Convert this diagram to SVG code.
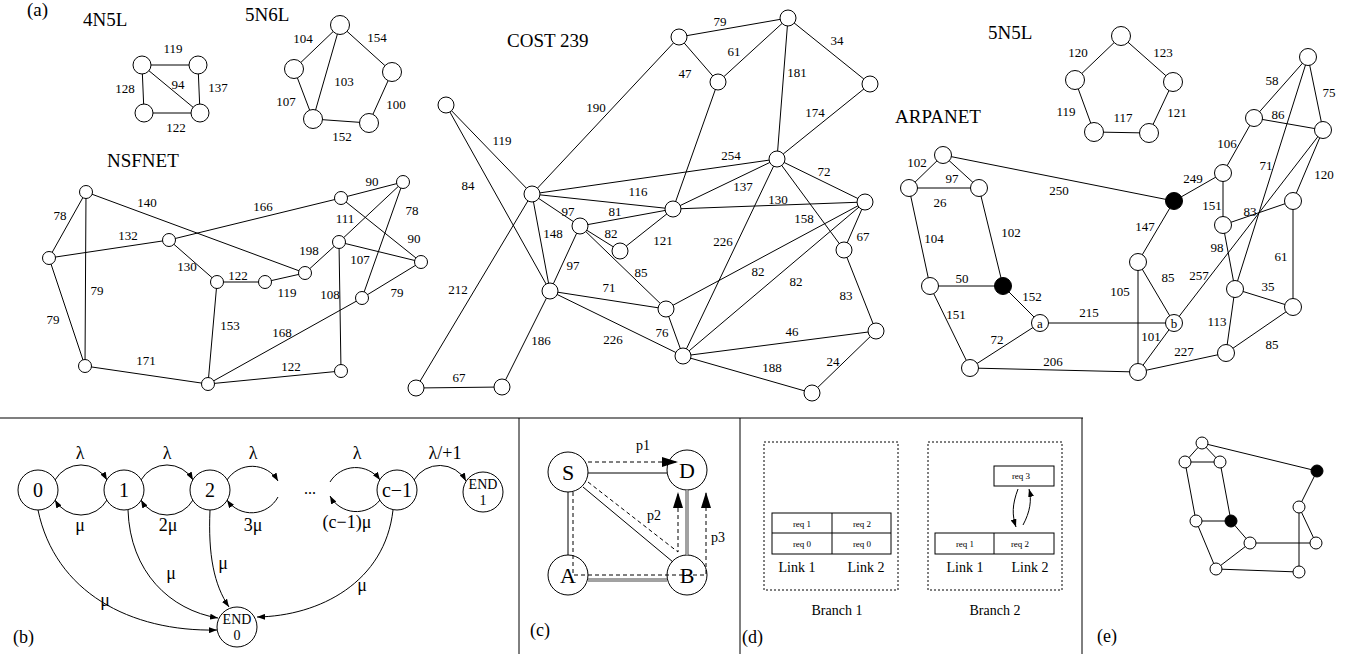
<svg xmlns="http://www.w3.org/2000/svg" width="1364" height="654" viewBox="0 0 1364 654">
<style>
text{font-family:"Liberation Serif","Times New Roman",serif;fill:#000}
.t{font-size:19px}
.l{font-size:13px;text-anchor:middle}
.e line,.e path,.e polyline{stroke:#000;stroke-width:1;fill:none}
circle{fill:#fff;stroke:#000;stroke-width:1}
circle.k{fill:#000}
.big{font-size:22px;text-anchor:middle}
.st{font-size:20px;text-anchor:middle}
.sm{font-size:9px;text-anchor:middle}
.md{font-size:14px;text-anchor:middle}
.gk{font-size:18px;text-anchor:middle}
.dash{stroke-dasharray:4,3}
.frame line{stroke:#000;stroke-width:1}
</style>
<defs>
<marker id="ah" markerUnits="userSpaceOnUse" markerWidth="8" markerHeight="6" refX="8" refY="3" orient="auto"><path d="M0,0 L8,3 L0,6 z" fill="#000"/></marker>
<marker id="ahb" markerUnits="userSpaceOnUse" markerWidth="16" markerHeight="10" refX="16" refY="5" orient="auto"><path d="M0,0 L16,5 L0,10 z" fill="#000"/></marker>
</defs>
<rect width="1364" height="654" fill="#fff"/>

<!-- titles -->
<text x="27" y="16" class="t">(a)</text>
<text x="83" y="26" class="t">4N5L</text>
<text x="245" y="21" class="t">5N6L</text>
<text x="107" y="167" class="t">NSFNET</text>
<text x="507" y="47" class="t">COST 239</text>
<text x="988" y="39" class="t">5N5L</text>
<text x="895" y="123" class="t">ARPANET</text>

<!-- frames -->
<g class="frame">
<line x1="0" y1="418" x2="1083" y2="418" style="stroke:#555;stroke-width:1.5"/>
<line x1="519" y1="418" x2="519" y2="654"/>
<line x1="740" y1="418" x2="740" y2="654"/>
<line x1="1082" y1="418" x2="1082" y2="654"/>
</g>

<!-- connectors -->
<g id="connectors" class="e">
<!-- 4N5L -->
<line x1="142" y1="65" x2="198" y2="65"/><line x1="142" y1="65" x2="144" y2="113"/><line x1="198" y1="65" x2="200" y2="113"/><line x1="144" y1="113" x2="200" y2="113"/><line x1="142" y1="65" x2="200" y2="113"/>
<!-- 5N6L -->
<line x1="340" y1="25" x2="294" y2="69"/><line x1="340" y1="25" x2="392" y2="72"/><line x1="340" y1="25" x2="313" y2="119"/><line x1="294" y1="69" x2="313" y2="119"/><line x1="392" y1="72" x2="369" y2="123"/><line x1="313" y1="119" x2="369" y2="123"/>
<!-- NSFNET -->
<line x1="86" y1="192" x2="49" y2="258"/><line x1="86" y1="192" x2="85" y2="366"/><line x1="86" y1="192" x2="305" y2="273"/><line x1="49" y1="258" x2="169" y2="240"/><line x1="49" y1="258" x2="85" y2="366"/><line x1="169" y1="240" x2="341" y2="198"/><line x1="169" y1="240" x2="217" y2="282"/><line x1="217" y1="282" x2="265" y2="282"/><line x1="265" y1="282" x2="305" y2="273"/><line x1="217" y1="282" x2="208" y2="384"/><line x1="85" y1="366" x2="208" y2="384"/><line x1="305" y1="273" x2="339" y2="242"/><line x1="341" y1="198" x2="403" y2="182"/><line x1="341" y1="198" x2="421" y2="262"/><line x1="339" y1="242" x2="403" y2="182"/><line x1="403" y1="182" x2="362" y2="298"/><line x1="339" y1="242" x2="421" y2="262"/><line x1="339" y1="242" x2="341" y2="371"/><line x1="421" y1="262" x2="362" y2="298"/><line x1="362" y1="298" x2="208" y2="384"/><line x1="208" y1="384" x2="341" y2="371"/>
<!-- COST 239 -->
<line x1="679" y1="37" x2="788" y2="18"/><line x1="679" y1="37" x2="718" y2="82"/><line x1="788" y1="18" x2="718" y2="82"/><line x1="788" y1="18" x2="870" y2="84"/><line x1="788" y1="18" x2="777" y2="159"/><line x1="870" y1="84" x2="777" y2="159"/><line x1="679" y1="37" x2="532" y2="194"/><line x1="446" y1="105" x2="532" y2="194"/><line x1="446" y1="105" x2="550" y2="291"/><line x1="532" y1="194" x2="777" y2="159"/><line x1="532" y1="194" x2="673" y2="209"/><line x1="718" y1="82" x2="673" y2="209"/><line x1="673" y1="209" x2="777" y2="159"/><line x1="532" y1="194" x2="580" y2="226"/><line x1="532" y1="194" x2="550" y2="291"/><line x1="580" y1="226" x2="673" y2="209"/><line x1="580" y1="226" x2="620" y2="251"/><line x1="620" y1="251" x2="673" y2="209"/><line x1="580" y1="226" x2="550" y2="291"/><line x1="580" y1="226" x2="666" y2="309"/><line x1="550" y1="291" x2="666" y2="309"/><line x1="550" y1="291" x2="683" y2="356"/><line x1="666" y1="309" x2="683" y2="356"/><line x1="673" y1="209" x2="865" y2="202"/><line x1="777" y1="159" x2="865" y2="202"/><line x1="777" y1="159" x2="844" y2="250"/><line x1="777" y1="159" x2="683" y2="356"/><line x1="865" y1="202" x2="666" y2="309"/><line x1="865" y1="202" x2="683" y2="356"/><line x1="865" y1="202" x2="844" y2="250"/><line x1="844" y1="250" x2="876" y2="331"/><line x1="683" y1="356" x2="876" y2="331"/><line x1="683" y1="356" x2="812" y2="393"/><line x1="876" y1="331" x2="812" y2="393"/><line x1="532" y1="194" x2="416" y2="388"/><line x1="416" y1="388" x2="502" y2="387"/><line x1="502" y1="387" x2="550" y2="291"/>
<!-- 5N5L -->
<line x1="1121" y1="36" x2="1075" y2="80"/><line x1="1121" y1="36" x2="1173" y2="82"/><line x1="1075" y1="80" x2="1094" y2="132"/><line x1="1173" y1="82" x2="1149" y2="133"/><line x1="1094" y1="132" x2="1149" y2="133"/>
<!-- ARPANET -->
<line x1="943" y1="155" x2="909" y2="188"/><line x1="943" y1="155" x2="979" y2="188"/><line x1="909" y1="188" x2="979" y2="188"/><line x1="943" y1="155" x2="1174" y2="201"/><line x1="1174" y1="201" x2="1223" y2="173"/><line x1="1223" y1="173" x2="1254" y2="118"/><line x1="1254" y1="118" x2="1308" y2="57"/><line x1="1308" y1="57" x2="1323" y2="130"/><line x1="1254" y1="118" x2="1323" y2="130"/><line x1="1223" y1="173" x2="1223" y2="225"/><line x1="1308" y1="57" x2="1235" y2="289"/><line x1="1323" y1="130" x2="1174" y2="323"/><line x1="1323" y1="130" x2="1293" y2="201"/><line x1="1293" y1="201" x2="1223" y2="225"/><line x1="1223" y1="225" x2="1235" y2="289"/><line x1="1293" y1="201" x2="1293" y2="307"/><line x1="1235" y1="289" x2="1293" y2="307"/><line x1="1235" y1="289" x2="1226" y2="353"/><line x1="1293" y1="307" x2="1226" y2="353"/><line x1="1226" y1="353" x2="1138" y2="372"/><line x1="909" y1="188" x2="930" y2="286"/><line x1="979" y1="188" x2="1003" y2="286"/><line x1="930" y1="286" x2="1003" y2="286"/><line x1="1003" y1="286" x2="1040" y2="323"/><line x1="930" y1="286" x2="970" y2="368"/><line x1="1040" y1="323" x2="970" y2="368"/><line x1="1040" y1="323" x2="1174" y2="323"/><line x1="970" y1="368" x2="1138" y2="372"/><line x1="1174" y1="201" x2="1138" y2="262"/><line x1="1138" y1="262" x2="1174" y2="323"/><line x1="1138" y1="262" x2="1138" y2="372"/><line x1="1174" y1="323" x2="1138" y2="372"/>
<!-- (b) -->
<path d="M55,480 A30 30 0 0 1 107,480" marker-end="url(#ah)"/>
<path d="M107,500 A30 30 0 0 1 55,500" marker-end="url(#ah)"/>
<path d="M141,480 A30 30 0 0 1 193,480" marker-end="url(#ah)"/>
<path d="M193,500 A30 30 0 0 1 141,500" marker-end="url(#ah)"/>
<path d="M227,480 A30 30 0 0 1 278,481" marker-end="url(#ah)"/>
<path d="M278,497 A30 30 0 0 1 227,500" marker-end="url(#ah)"/>
<path d="M330,482 A30 30 0 0 1 380,480" marker-end="url(#ah)"/>
<path d="M380,500 A30 30 0 0 1 330,496" marker-end="url(#ah)"/>
<path d="M414,480 A30 30 0 0 1 466,481" marker-end="url(#ah)"/>
<path d="M38,510 C55,592 130,632 217,630" marker-end="url(#ah)"/>
<path d="M128,510 C130,572 170,610 218,618" marker-end="url(#ah)"/>
<path d="M210,510 C208,555 214,585 229,607" marker-end="url(#ah)"/>
<path d="M393,510 C385,582 320,616 257,617" marker-end="url(#ah)"/>
<!-- (d) -->
<path d="M1018,489 C1012,505 1012,515 1016,527" marker-end="url(#ah)"/>
<path d="M1023,525 C1030,512 1032,500 1029,489" marker-end="url(#ah)"/>
<!-- (e) -->
<line x1="1202" y1="443" x2="1185" y2="462"/><line x1="1202" y1="443" x2="1220" y2="462"/><line x1="1185" y1="462" x2="1220" y2="462"/><line x1="1202" y1="443" x2="1317" y2="471"/><line x1="1317" y1="471" x2="1299" y2="507"/><line x1="1185" y1="462" x2="1196" y2="521"/><line x1="1220" y1="462" x2="1231" y2="521"/><line x1="1196" y1="521" x2="1231" y2="521"/><line x1="1231" y1="521" x2="1250" y2="543"/><line x1="1196" y1="521" x2="1216" y2="569"/><line x1="1250" y1="543" x2="1216" y2="569"/><line x1="1250" y1="543" x2="1316" y2="543"/><line x1="1299" y1="507" x2="1316" y2="543"/><line x1="1299" y1="507" x2="1299" y2="572"/><line x1="1216" y1="569" x2="1299" y2="572"/>
</g>

<!-- nodes 4N5L -->
<g id="n4a"><circle cx="142" cy="65" r="9"/></g>
<g id="n4b"><circle cx="198" cy="65" r="9"/></g>
<g id="n4c"><circle cx="144" cy="113" r="9"/></g>
<g id="n4d"><circle cx="200" cy="113" r="9"/></g>
<!-- 5N6L -->
<g id="n5a"><circle cx="340" cy="25" r="9.5"/></g>
<g id="n5b"><circle cx="294" cy="69" r="9.5"/></g>
<g id="n5c"><circle cx="392" cy="72" r="9.5"/></g>
<g id="n5d"><circle cx="313" cy="119" r="9.5"/></g>
<g id="n5e"><circle cx="369" cy="123" r="9.5"/></g>
<!-- NSFNET -->
<g id="ns1"><circle cx="86" cy="192" r="6.5"/></g>
<g id="ns2"><circle cx="49" cy="258" r="6.5"/></g>
<g id="ns3"><circle cx="85" cy="366" r="6.5"/></g>
<g id="ns4"><circle cx="169" cy="240" r="6.5"/></g>
<g id="ns5"><circle cx="217" cy="282" r="6.5"/></g>
<g id="ns6"><circle cx="265" cy="282" r="6.5"/></g>
<g id="ns7"><circle cx="305" cy="273" r="6.5"/></g>
<g id="ns8"><circle cx="208" cy="384" r="6.5"/></g>
<g id="ns9"><circle cx="341" cy="198" r="6.5"/></g>
<g id="ns10"><circle cx="403" cy="182" r="6.5"/></g>
<g id="ns11"><circle cx="339" cy="242" r="6.5"/></g>
<g id="ns12"><circle cx="421" cy="262" r="6.5"/></g>
<g id="ns13"><circle cx="362" cy="298" r="6.5"/></g>
<g id="ns14"><circle cx="341" cy="371" r="6.5"/></g>
<!-- COST 239 -->
<g id="c1"><circle cx="679" cy="37" r="8"/></g>
<g id="c2"><circle cx="788" cy="18" r="8"/></g>
<g id="c3"><circle cx="718" cy="82" r="8"/></g>
<g id="c4"><circle cx="870" cy="84" r="8"/></g>
<g id="c5"><circle cx="446" cy="105" r="8"/></g>
<g id="c6"><circle cx="777" cy="159" r="8"/></g>
<g id="c7"><circle cx="532" cy="194" r="8"/></g>
<g id="c8"><circle cx="580" cy="226" r="8"/></g>
<g id="c9"><circle cx="673" cy="209" r="8"/></g>
<g id="c10"><circle cx="620" cy="251" r="8"/></g>
<g id="c11"><circle cx="865" cy="202" r="8"/></g>
<g id="c12"><circle cx="844" cy="250" r="8"/></g>
<g id="c13"><circle cx="550" cy="291" r="8"/></g>
<g id="c14"><circle cx="666" cy="309" r="8"/></g>
<g id="c15"><circle cx="683" cy="356" r="8"/></g>
<g id="c16"><circle cx="876" cy="331" r="8"/></g>
<g id="c17"><circle cx="416" cy="388" r="8"/></g>
<g id="c18"><circle cx="502" cy="387" r="8"/></g>
<g id="c19"><circle cx="812" cy="393" r="8"/></g>
<!-- 5N5L -->
<g id="p1"><circle cx="1121" cy="36" r="9.5"/></g>
<g id="p2"><circle cx="1075" cy="80" r="9.5"/></g>
<g id="p3"><circle cx="1173" cy="82" r="9.5"/></g>
<g id="p4"><circle cx="1094" cy="132" r="9.5"/></g>
<g id="p5"><circle cx="1149" cy="133" r="9.5"/></g>
<!-- ARPANET -->
<g id="a1"><circle cx="943" cy="155" r="8.5"/></g>
<g id="a2"><circle cx="909" cy="188" r="8.5"/></g>
<g id="a3"><circle cx="979" cy="188" r="8.5"/></g>
<g id="a4"><circle class="k" cx="1174" cy="201" r="8.5"/></g>
<g id="a5"><circle cx="1223" cy="173" r="8.5"/></g>
<g id="a6"><circle cx="1254" cy="118" r="8.5"/></g>
<g id="a7"><circle cx="1308" cy="57" r="8.5"/></g>
<g id="a8"><circle cx="1323" cy="130" r="8.5"/></g>
<g id="a9"><circle cx="1293" cy="201" r="8.5"/></g>
<g id="a10"><circle cx="1223" cy="225" r="8.5"/></g>
<g id="a11"><circle cx="1235" cy="289" r="8.5"/></g>
<g id="a12"><circle cx="1293" cy="307" r="8.5"/></g>
<g id="a13"><circle cx="1226" cy="353" r="8.5"/></g>
<g id="a14"><circle cx="930" cy="286" r="8.5"/></g>
<g id="a15"><circle class="k" cx="1003" cy="286" r="8.5"/></g>
<g id="aa"><circle cx="1040" cy="323" r="8.5"/><text x="1040" y="328" class="l">a</text></g>
<g id="a16"><circle cx="970" cy="368" r="8.5"/></g>
<g id="a17"><circle cx="1138" cy="262" r="8.5"/></g>
<g id="ab"><circle cx="1174" cy="323" r="8.5"/><text x="1174" y="328" class="l">b</text></g>
<g id="a19"><circle cx="1138" cy="372" r="8.5"/></g>

<!-- edge labels (a) -->
<g>
<text x="173" y="53" class="l">119</text><text x="125" y="93" class="l">128</text><text x="178" y="89" class="l">94</text><text x="218" y="92" class="l">137</text><text x="176" y="132" class="l">122</text>
<text x="303" y="43" class="l">104</text><text x="377" y="42" class="l">154</text><text x="344" y="86" class="l">103</text><text x="286" y="106" class="l">107</text><text x="396" y="109" class="l">100</text><text x="342" y="141" class="l">152</text>
<text x="60" y="220" class="l">78</text><text x="147" y="207" class="l">140</text><text x="263" y="211" class="l">166</text><text x="128" y="240" class="l">132</text><text x="187" y="271" class="l">130</text><text x="238" y="280" class="l">122</text><text x="287" y="297" class="l">119</text><text x="309" y="255" class="l">198</text><text x="97" y="295" class="l">79</text><text x="53" y="324" class="l">79</text><text x="230" y="330" class="l">153</text><text x="282" y="337" class="l">168</text><text x="146" y="365" class="l">171</text><text x="291" y="371" class="l">122</text><text x="330" y="299" class="l">108</text><text x="372" y="186" class="l">90</text><text x="345" y="223" class="l">111</text><text x="412" y="215" class="l">78</text><text x="414" y="243" class="l">90</text><text x="360" y="264" class="l">107</text><text x="397" y="297" class="l">79</text>
<text x="720" y="26" class="l">79</text><text x="734" y="56" class="l">61</text><text x="837" y="45" class="l">34</text><text x="685" y="78" class="l">47</text><text x="797" y="77" class="l">181</text><text x="815" y="117" class="l">174</text><text x="596" y="112" class="l">190</text><text x="502" y="145" class="l">119</text><text x="468" y="190" class="l">84</text><text x="731" y="160" class="l">254</text><text x="824" y="176" class="l">72</text><text x="743" y="191" class="l">137</text><text x="638" y="196" class="l">116</text><text x="778" y="204" class="l">130</text><text x="568" y="216" class="l">97</text><text x="615" y="216" class="l">81</text><text x="804" y="223" class="l">158</text><text x="611" y="238" class="l">82</text><text x="553" y="238" class="l">148</text><text x="663" y="245" class="l">121</text><text x="723" y="246" class="l">226</text><text x="863" y="241" class="l">67</text><text x="573" y="270" class="l">97</text><text x="641" y="277" class="l">85</text><text x="758" y="276" class="l">82</text><text x="796" y="286" class="l">82</text><text x="846" y="300" class="l">83</text><text x="609" y="292" class="l">71</text><text x="458" y="294" class="l">212</text><text x="662" y="337" class="l">76</text><text x="613" y="344" class="l">226</text><text x="541" y="345" class="l">186</text><text x="792" y="336" class="l">46</text><text x="833" y="366" class="l">24</text><text x="772" y="372" class="l">188</text><text x="459" y="382" class="l">67</text>
<text x="1078" y="57" class="l">120</text><text x="1163" y="57" class="l">123</text><text x="1066" y="116" class="l">119</text><text x="1123" y="122" class="l">117</text><text x="1177" y="117" class="l">121</text>
<text x="917" y="167" class="l">102</text><text x="952" y="183" class="l">97</text><text x="1059" y="195" class="l">250</text><text x="1193" y="183" class="l">249</text><text x="1272" y="85" class="l">58</text><text x="1329" y="97" class="l">75</text><text x="1278" y="119" class="l">86</text><text x="1227" y="148" class="l">106</text><text x="1266" y="170" class="l">71</text><text x="1324" y="179" class="l">120</text><text x="940" y="207" class="l">26</text><text x="1212" y="210" class="l">151</text><text x="1250" y="216" class="l">83</text><text x="1145" y="231" class="l">147</text><text x="1011" y="237" class="l">102</text><text x="934" y="243" class="l">104</text><text x="1217" y="252" class="l">98</text><text x="1281" y="261" class="l">61</text><text x="1168" y="282" class="l">85</text><text x="1199" y="280" class="l">257</text><text x="962" y="283" class="l">50</text><text x="1120" y="296" class="l">105</text><text x="1268" y="291" class="l">35</text><text x="1032" y="301" class="l">152</text><text x="1089" y="317" class="l">215</text><text x="956" y="319" class="l">151</text><text x="1217" y="326" class="l">113</text><text x="997" y="344" class="l">72</text><text x="1151" y="341" class="l">101</text><text x="1184" y="356" class="l">227</text><text x="1272" y="349" class="l">85</text><text x="1053" y="366" class="l">206</text>
</g>

<!-- (b) nodes -->
<g id="b0"><circle cx="38" cy="490" r="20"/><text x="38" y="497" class="st">0</text></g>
<g id="b1"><circle cx="124" cy="490" r="20"/><text x="124" y="497" class="st">1</text></g>
<g id="b2"><circle cx="210" cy="490" r="20"/><text x="210" y="497" class="st">2</text></g>
<g id="bc1"><circle cx="397" cy="490" r="20"/><text x="397" y="497" class="st">c−1</text></g>
<g id="bend1"><circle cx="483" cy="492" r="20"/><text x="483" y="489" class="md">END</text><text x="483" y="505" class="md">1</text></g>
<g id="bend0"><circle cx="237" cy="627" r="20"/><text x="237" y="624" class="md">END</text><text x="237" y="640" class="md">0</text></g>
<g>
<text x="80" y="459" class="gk">λ</text><text x="167" y="459" class="gk">λ</text><text x="253" y="459" class="gk">λ</text><text x="357" y="459" class="gk">λ</text><text x="445" y="459" class="gk">λ/+1</text>
<text x="80" y="531" class="gk">μ</text><text x="168" y="531" class="gk">2μ</text><text x="253" y="531" class="gk">3μ</text><text x="347" y="528" class="gk">(c−1)μ</text>
<text x="310" y="494" class="md" style="font-size:16px">...</text>
<text x="105" y="606" class="gk">μ</text><text x="171" y="579" class="gk">μ</text><text x="223" y="569" class="gk">μ</text><text x="362" y="591" class="gk">μ</text>
</g>
<text x="13" y="643" class="t" style="font-size:18px">(b)</text>

<!-- (c) -->
<g id="cS"><circle cx="568" cy="472" r="20" style="fill:none"/><text x="568" y="480" class="big">S</text></g>
<g id="cD"><circle cx="687" cy="470" r="20" style="fill:none"/><text x="687" y="478" class="big">D</text></g>
<g id="cA"><circle cx="568" cy="575" r="20" style="fill:none"/><text x="568" y="583" class="big">A</text></g>
<g id="cB"><circle cx="687" cy="575" r="20" style="fill:none"/><text x="687" y="583" class="big">B</text></g>
<g id="cconn" class="e">
<line x1="588" y1="473" x2="667" y2="473"/>
<line x1="568" y1="492" x2="568" y2="555"/>
<line x1="583" y1="487" x2="673" y2="562"/>
<line x1="687" y1="490" x2="687" y2="555" style="stroke:#444;stroke-width:3"/>
<line x1="687" y1="490" x2="687" y2="555" style="stroke:#fff;stroke-width:1"/>
<line x1="588" y1="580" x2="667" y2="580" style="stroke:#444;stroke-width:3"/>
<line x1="588" y1="580" x2="667" y2="580" style="stroke:#fff;stroke-width:1"/>
<polyline class="dash" points="588,462 678,462" marker-end="url(#ahb)"/>
<polyline class="dash" points="588,482 678,552 678,492" marker-end="url(#ahb)"/>
<polyline class="dash" points="573,492 573,575 706,575 706,492" marker-end="url(#ahb)"/>
</g>
<text x="643" y="450" class="md">p1</text>
<text x="654" y="520" class="md">p2</text>
<text x="718" y="542" class="md">p3</text>
<text x="530" y="636" class="t" style="font-size:18px">(c)</text>

<!-- (d) -->
<g id="branch1">
<rect x="764" y="442" width="134" height="148" fill="none" stroke="#000" stroke-dasharray="2,2"/>
<rect x="772" y="513" width="119" height="41" fill="none" stroke="#000"/>
<line x1="832" y1="513" x2="832" y2="554" stroke="#000"/><line x1="772" y1="533" x2="891" y2="533" stroke="#000"/>
<text x="802" y="527" class="sm">req 1</text><text x="862" y="527" class="sm">req 2</text>
<text x="802" y="547" class="sm">req 0</text><text x="862" y="547" class="sm">req 0</text>
<text x="797" y="572" class="md">Link 1</text><text x="866" y="572" class="md">Link 2</text>
<text x="837" y="615" class="md">Branch 1</text>
</g>
<g id="branch2">
<rect x="928" y="442" width="134" height="148" fill="none" stroke="#000" stroke-dasharray="2,2"/>
<rect x="935" y="533" width="119" height="21" fill="none" stroke="#000"/>
<line x1="994" y1="533" x2="994" y2="554" stroke="#000"/>
<rect x="994" y="466" width="60" height="20" fill="none" stroke="#000"/>
<text x="965" y="547" class="sm">req 1</text><text x="1020" y="547" class="sm">req 2</text>
<text x="1021" y="479" class="sm">req 3</text>
<text x="965" y="572" class="md">Link 1</text><text x="1030" y="572" class="md">Link 2</text>
<text x="995" y="615" class="md">Branch 2</text>
</g>
<text x="742" y="643" class="t" style="font-size:18px">(d)</text>

<!-- (e) -->
<g id="e1"><circle cx="1202" cy="443" r="6"/></g>
<g id="e2"><circle cx="1185" cy="462" r="6"/></g>
<g id="e3"><circle cx="1220" cy="462" r="6"/></g>
<g id="e4"><circle class="k" cx="1317" cy="471" r="6"/></g>
<g id="e5"><circle cx="1299" cy="507" r="6"/></g>
<g id="e6"><circle cx="1196" cy="521" r="6"/></g>
<g id="e7"><circle class="k" cx="1231" cy="521" r="6"/></g>
<g id="e8"><circle cx="1250" cy="543" r="6"/></g>
<g id="e9"><circle cx="1316" cy="543" r="6"/></g>
<g id="e10"><circle cx="1216" cy="569" r="6"/></g>
<g id="e11"><circle cx="1299" cy="572" r="6"/></g>
<text x="1097" y="642" class="t" style="font-size:18px">(e)</text>
</svg>
